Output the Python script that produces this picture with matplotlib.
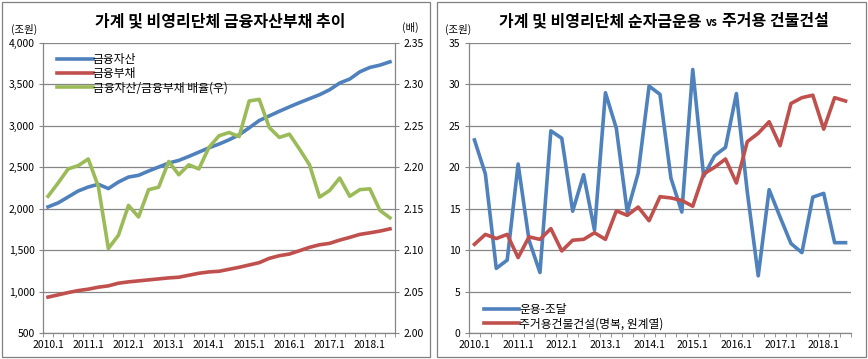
import numpy as np
import matplotlib
matplotlib.use('Agg')
import matplotlib.pyplot as plt
from matplotlib.patches import Rectangle
from matplotlib.ticker import FuncFormatter

plt.rcParams['font.family'] = ['Noto Sans CJK KR', 'DejaVu Sans']

# 2010.1 ~ 2018.3 (quarterly)
quarters = [f'{y}.{q}' for y in range(2010, 2019) for q in range(1, 5)][:35]
year_labels = [q for q in quarters if q.endswith('.1')]

# left panel (조원 / 배)
fin_assets = [2022, 2070, 2142, 2214, 2262, 2295, 2243, 2322, 2382, 2403,
              2455, 2503, 2551, 2583, 2631, 2683, 2735, 2780, 2832, 2892,
              2976, 3064, 3120, 3176, 3229, 3280, 3328, 3376, 3436, 3517,
              3565, 3652, 3705, 3733, 3773]
fin_liab = [933, 960, 988, 1012, 1029, 1053, 1069, 1101, 1117, 1129,
            1141, 1153, 1165, 1173, 1197, 1221, 1237, 1245, 1269, 1293,
            1321, 1349, 1401, 1433, 1453, 1493, 1534, 1565, 1582, 1621,
            1654, 1690, 1709, 1730, 1757]
ratio = [2.165, 2.181, 2.198, 2.202, 2.210, 2.177, 2.102, 2.118, 2.154, 2.140,
         2.173, 2.176, 2.207, 2.191, 2.203, 2.198, 2.224, 2.238, 2.242, 2.237,
         2.280, 2.282, 2.248, 2.236, 2.240, 2.222, 2.203, 2.164, 2.172, 2.187,
         2.165, 2.173, 2.174, 2.148, 2.139]

# right panel (조원)
net_funds = [23.3, 19.2, 7.8, 8.8, 20.4, 11.2, 7.3, 24.4, 23.5, 14.7,
             19.1, 12.4, 29.0, 24.7, 14.6, 19.3, 29.8, 28.8, 18.7, 14.6,
             31.8, 18.9, 21.4, 22.4, 28.9, 17.0, 6.9, 17.3, 14.0, 10.8,
             9.7, 16.4, 16.85, 10.9, 10.9]
housing = [10.7, 11.9, 11.4, 11.9, 9.1, 11.6, 11.3, 12.6, 9.9, 11.2,
           11.3, 12.1, 11.3, 14.75, 14.2, 15.2, 13.55, 16.45, 16.3, 16.0,
           15.3, 19.2, 20.0, 21.0, 18.1, 23.1, 24.1, 25.5, 22.6, 27.7,
           28.4, 28.7, 24.6, 28.4, 28.0]

BLUE = '#4F81BD'
RED = '#C0504D'
GREEN = '#9BBB59'
GRID = '#868686'
LW = 2.6
W, H = 868, 359

x = np.arange(len(quarters))
label_pos = [quarters.index(q) for q in year_labels]


def style_xaxis(ax):
    ax.set_xlim(-0.5, len(quarters) - 0.5)
    ax.set_xticks(label_pos)
    ax.set_xticklabels(year_labels, fontsize=7.5)
    ax.set_xticks(np.arange(-0.5, len(quarters)), minor=True)
    ax.tick_params(axis='x', which='major', length=0, pad=5)
    ax.tick_params(axis='x', which='minor', length=3, color=GRID, direction='out')


def style_box(ax):
    ax.grid(axis='y', color=GRID, linewidth=0.9)
    ax.set_axisbelow(True)
    for side in ['top', 'right']:
        ax.spines[side].set_visible(False)
    for side in ['left', 'bottom']:
        ax.spines[side].set_color(GRID)
        ax.spines[side].set_linewidth(0.9)
    ax.tick_params(axis='y', length=3, color=GRID, labelsize=7.5, pad=3)


fig = plt.figure(figsize=(W / 100, H / 100), dpi=100)

# panel frames
fig.patches.append(Rectangle((2 / W, 2 / H), 428 / W, 355 / H,
                             transform=fig.transFigure, fill=False,
                             edgecolor='#808080', linewidth=0.9))
fig.patches.append(Rectangle((437 / W, 2 / H), 429 / W, 355 / H,
                             transform=fig.transFigure, fill=False,
                             edgecolor='#808080', linewidth=0.9))

# ---- left chart
ax1 = fig.add_axes([43 / W, 1 - 333 / H, 352 / W, 290 / H])
ax1.plot(x, fin_assets, color=BLUE, lw=LW, label='금융자산')
ax1.plot(x, fin_liab, color=RED, lw=LW, label='금융부채')
ax1.plot([], [], color=GREEN, lw=LW, label='금융자산/금융부채 배율(우)')
ax1.set_ylim(500, 4000)
ax1.set_yticks(np.arange(500, 4001, 500))
ax1.yaxis.set_major_formatter(FuncFormatter(lambda v, p: f'{v:,.0f}'))
style_box(ax1)
style_xaxis(ax1)

ax2 = ax1.twinx()
ax2.plot(x, ratio, color=GREEN, lw=LW)
ax2.set_ylim(2.00, 2.35)
ax2.set_yticks(np.arange(2.00, 2.351, 0.05))
ax2.yaxis.set_major_formatter(FuncFormatter(lambda v, p: f'{v:.2f}'))
for side in ['top', 'left', 'bottom']:
    ax2.spines[side].set_visible(False)
ax2.spines['right'].set_color(GRID)
ax2.spines['right'].set_linewidth(0.9)
ax2.tick_params(axis='y', length=3, color=GRID, labelsize=7.5, pad=3)

ax1.legend(loc='upper left', bbox_to_anchor=(0.02, 0.99), frameon=False,
           fontsize=8.5, handlelength=3.0, handletextpad=0.0,
           labelspacing=0.1, borderaxespad=0.2)

fig.text(220 / W, 1 - 21 / H, '가계 및 비영리단체 금융자산부채 추이',
         ha='center', va='center', fontsize=11.5, fontweight='bold')
fig.text(24 / W, 1 - 29 / H, '(조원)', ha='center', va='center', fontsize=7.5)
fig.text(410 / W, 1 - 27 / H, '(배)', ha='center', va='center', fontsize=7.5)

# ---- right chart
ax3 = fig.add_axes([469 / W, 1 - 333 / H, 382 / W, 290 / H])
ax3.plot(x, net_funds, color=BLUE, lw=LW, label='운용-조달')
ax3.plot(x, housing, color=RED, lw=LW, label='주거용건물건설(명복, 원계열)')
ax3.set_ylim(0, 35)
ax3.set_yticks(np.arange(0, 36, 5))
style_box(ax3)
style_xaxis(ax3)
ax3.legend(loc='lower left', bbox_to_anchor=(0.02, -0.015), frameon=False,
           fontsize=8.5, handlelength=3.0, handletextpad=0.0,
           labelspacing=0.1, borderaxespad=0.2)

# right title: three pieces laid side by side, centred as a whole
parts = [('가계 및 비영리단체 순자금운용', 11.5, 0), ('vs', 8, -2),
         ('주거용 건물건설', 11.5, 0)]
gap = 4
texts = [fig.text(0, 1 - 21 / H, s, ha='left', va='center', fontsize=fs,
                  fontweight='bold') for s, fs, dy in parts]
fig.canvas.draw()
renderer = fig.canvas.get_renderer()
widths = [t.get_window_extent(renderer).width for t in texts]
total = sum(widths) + gap * (len(widths) - 1)
left = 664 - total / 2
for t, w, (s, fs, dy) in zip(texts, widths, parts):
    t.set_position((left / W, 1 - (21 - dy) / H))
    left += w + gap
fig.text(458 / W, 1 - 29 / H, '(조원)', ha='center', va='center', fontsize=7.5)

fig.savefig('out.png', dpi=100)
